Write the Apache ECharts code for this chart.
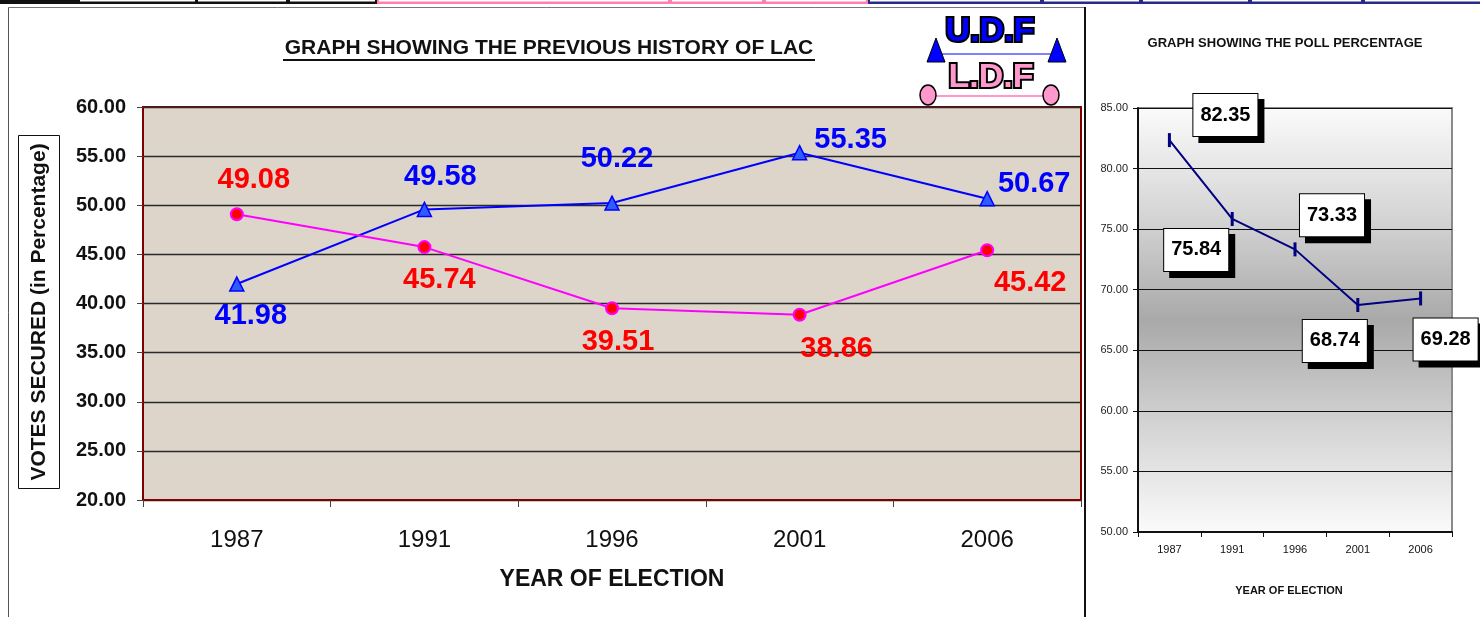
<!DOCTYPE html>
<html>
<head>
<meta charset="utf-8">
<script src="https://cdn.jsdelivr.net/npm/echarts@6/dist/echarts.min.js"></script>
<style>
html,body{margin:0;padding:0;background:#fff;}
#c{width:1480px;height:617px;}
</style>
</head>
<body>
<div id="c"></div>
<script>
// ---- data ----
var years = ['1987', '1991', '1996', '2001', '2006'];
var udf = [41.98, 49.58, 50.22, 55.35, 50.67];
var ldf = [49.08, 45.74, 39.51, 38.86, 45.42];
var poll = [82.35, 75.84, 73.33, 68.74, 69.28];

// label layout (pixel offsets from each point)
var udfOffsets = [[14, 32], [16, -32], [5, -44], [51, -13], [47, -15]];
var ldfOffsets = [[17, -34], [15, 33], [6, 34], [37, 34], [43, 33]];
var pollOffsets = [[56, -25], [-36, 31], [37, -34], [-23, 36], [25, 41]];

var FONT = '"Liberation Sans", Arial, sans-serif';

function withOffsets(vals, offs) {
  return vals.map(function (v, i) {
    return { value: v, label: { offset: offs[i] } };
  });
}

var chart = echarts.init(document.getElementById('c'), null, { renderer: 'canvas' });

var option = {
  animation: false,
  backgroundColor: '#ffffff',
  grid: [
    { left: 143, top: 107, width: 938, height: 393, show: true,
      backgroundColor: '#ddd5c9', borderColor: '#800000', borderWidth: 2 },
    { left: 1138, top: 108, width: 314, height: 424, show: true,
      backgroundColor: { type: 'linear', x: 0, y: 0, x2: 0, y2: 1,
        colorStops: [
          { offset: 0, color: '#fbfbfb' },
          { offset: 0.25, color: '#d6d6d6' },
          { offset: 0.5, color: '#a9a9a9' },
          { offset: 0.75, color: '#d4d4d4' },
          { offset: 1, color: '#fbfbfb' }
        ] },
      borderColor: '#8a8a8a', borderWidth: 2 }
  ],
  xAxis: [
    { type: 'category', gridIndex: 0, data: years, boundaryGap: true,
      axisLine: { show: true, lineStyle: { color: '#800000', width: 2 } },
      axisTick: { show: true, length: 7, lineStyle: { color: '#444', width: 1 } },
      axisLabel: { margin: 28, fontFamily: FONT, fontSize: 24, color: '#111' },
      splitLine: { show: false } },
    { type: 'category', gridIndex: 1, data: years, boundaryGap: true,
      axisLine: { show: true, lineStyle: { color: '#111', width: 2 } },
      axisTick: { show: true, length: 5, lineStyle: { color: '#111', width: 1 } },
      axisLabel: { margin: 12, fontFamily: FONT, fontSize: 11, color: '#111' },
      splitLine: { show: false } }
  ],
  yAxis: [
    { type: 'value', gridIndex: 0, min: 20, max: 60, interval: 5,
      axisLine: { show: true, lineStyle: { color: '#800000', width: 2 } },
      axisTick: { show: true, length: 6, lineStyle: { color: '#444', width: 1 } },
      axisLabel: { margin: 17, fontFamily: FONT, fontSize: 20, fontWeight: 'bold', color: '#111',
        formatter: function (v) { return v.toFixed(2); } },
      splitLine: { show: true, lineStyle: { color: '#2a2a2a', width: 1.3 } } },
    { type: 'value', gridIndex: 1, min: 50, max: 85, interval: 5,
      axisLine: { show: true, lineStyle: { color: '#111', width: 2 } },
      axisTick: { show: true, length: 5, lineStyle: { color: '#111', width: 1 } },
      axisLabel: { margin: 10, fontFamily: FONT, fontSize: 11, color: '#222',
        formatter: function (v) { return v.toFixed(2); } },
      splitLine: { show: true, lineStyle: { color: '#111', width: 1.2 } } }
  ],
  series: [
    { name: 'U.D.F', type: 'line', xAxisIndex: 0, yAxisIndex: 0,
      data: withOffsets(udf, udfOffsets),
      symbol: 'triangle', symbolSize: 14,
      lineStyle: { color: '#0000ff', width: 2 },
      itemStyle: { color: '#2f5cff', borderColor: '#0000ff', borderWidth: 1.5 },
      label: { show: true, position: 'inside', fontFamily: FONT, fontSize: 29,
        fontWeight: 'bold', color: '#0000ff',
        formatter: function (p) { return p.value.toFixed(2); } },
      z: 3 },
    { name: 'L.D.F', type: 'line', xAxisIndex: 0, yAxisIndex: 0,
      data: withOffsets(ldf, ldfOffsets),
      symbol: 'circle', symbolSize: 12,
      lineStyle: { color: '#ff00ff', width: 2 },
      itemStyle: { color: '#ff0000', borderColor: '#ff00ff', borderWidth: 2 },
      label: { show: true, position: 'inside', fontFamily: FONT, fontSize: 29,
        fontWeight: 'bold', color: '#ff0000',
        formatter: function (p) { return p.value.toFixed(2); } },
      z: 3 },
    { name: 'POLL', type: 'line', xAxisIndex: 1, yAxisIndex: 1,
      data: withOffsets(poll, pollOffsets),
      symbol: 'rect', symbolSize: [3, 14],
      lineStyle: { color: '#000080', width: 2 },
      itemStyle: { color: '#000080' },
      label: { show: true, position: 'inside', fontFamily: FONT, fontSize: 20,
        fontWeight: 'bold', color: '#000',
        backgroundColor: '#fff', borderColor: '#000', borderWidth: 1,
        padding: [11, 7, 11, 7],
        shadowColor: '#000', shadowOffsetX: 6, shadowOffsetY: 6, shadowBlur: 0,
        formatter: function (p) { return p.value.toFixed(2); } },
      z: 3 }
  ],
  graphic: [
    // top strip (table edge)
    { type: 'rect', shape: { x: 0, y: 0, width: 377, height: 4 }, style: { fill: '#111' }, z: 10 },
    { type: 'rect', shape: { x: 377, y: 0, width: 491, height: 4 }, style: { fill: '#ff7fb3' }, z: 10 },
    { type: 'rect', shape: { x: 868, y: 0, width: 612, height: 4 }, style: { fill: '#2a2a8a' }, z: 10 },
    { type: 'rect', shape: { x: 80, y: 0, width: 115, height: 1.5 }, style: { fill: '#fff' }, z: 11 },
    { type: 'rect', shape: { x: 198, y: 0, width: 88, height: 1.5 }, style: { fill: '#fff' }, z: 11 },
    { type: 'rect', shape: { x: 290, y: 0, width: 85, height: 1.5 }, style: { fill: '#fff' }, z: 11 },
    { type: 'rect', shape: { x: 379, y: 0, width: 289, height: 1.5 }, style: { fill: '#fff' }, z: 11 },
    { type: 'rect', shape: { x: 672, y: 0, width: 90, height: 1.5 }, style: { fill: '#fff' }, z: 11 },
    { type: 'rect', shape: { x: 766, y: 0, width: 100, height: 1.5 }, style: { fill: '#fff' }, z: 11 },
    { type: 'rect', shape: { x: 870, y: 0, width: 170, height: 1.5 }, style: { fill: '#fff' }, z: 11 },
    { type: 'rect', shape: { x: 1044, y: 0, width: 95, height: 1.5 }, style: { fill: '#fff' }, z: 11 },
    { type: 'rect', shape: { x: 1143, y: 0, width: 105, height: 1.5 }, style: { fill: '#fff' }, z: 11 },
    { type: 'rect', shape: { x: 1252, y: 0, width: 109, height: 1.5 }, style: { fill: '#fff' }, z: 11 },
    { type: 'rect', shape: { x: 1365, y: 0, width: 115, height: 1.5 }, style: { fill: '#fff' }, z: 11 },
    // left panel frame
    { type: 'line', shape: { x1: 8.5, y1: 7.5, x2: 1085, y2: 7.5 }, style: { stroke: '#777', lineWidth: 1 }, z: 10 },
    { type: 'line', shape: { x1: 8.5, y1: 7.5, x2: 8.5, y2: 617 }, style: { stroke: '#555', lineWidth: 1 }, z: 10 },
    { type: 'line', shape: { x1: 1085, y1: 7, x2: 1085, y2: 617 }, style: { stroke: '#111', lineWidth: 2 }, z: 10 },
    // left title
    { type: 'text', x: 549, y: 48,
      style: { text: 'GRAPH SHOWING THE PREVIOUS HISTORY OF LAC', font: 'bold 21px ' + FONT, fill: '#111',
        align: 'center', verticalAlign: 'middle' }, z: 10 },
    { type: 'line', shape: { x1: 283, y1: 60, x2: 815, y2: 60 }, style: { stroke: '#111', lineWidth: 2 }, z: 10 },
    // y axis title box
    { type: 'rect', shape: { x: 18.5, y: 135.5, width: 41, height: 353 }, style: { fill: '#fff', stroke: '#111', lineWidth: 1 }, z: 10 },
    { type: 'text', x: 39, y: 312, rotation: Math.PI / 2,
      style: { text: 'VOTES SECURED (in Percentage)', font: 'bold 21px ' + FONT, fill: '#111',
        align: 'center', verticalAlign: 'middle' }, z: 11 },
    // x axis title
    { type: 'text', x: 612, y: 580,
      style: { text: 'YEAR OF ELECTION', font: 'bold 23px ' + FONT, fill: '#111',
        align: 'center', verticalAlign: 'middle' }, z: 10 },
    // legend (U.D.F / L.D.F)
    { type: 'line', shape: { x1: 942, y1: 54, x2: 1051, y2: 54 }, style: { stroke: '#0000ff', lineWidth: 1 }, z: 10 },
    { type: 'polygon', shape: { points: [[936, 38], [927, 62], [945, 62]] }, style: { fill: '#0000ff', stroke: '#000', lineWidth: 1 }, z: 11 },
    { type: 'polygon', shape: { points: [[1057, 38], [1048, 62], [1066, 62]] }, style: { fill: '#0000ff', stroke: '#000', lineWidth: 1 }, z: 11 },
    { type: 'text', x: 990, y: 32,
      style: { text: 'U.D.F', font: 'bold 34px ' + FONT, fill: '#0000ff', stroke: '#000', lineWidth: 4,
        strokeFirst: true, align: 'center', verticalAlign: 'middle' }, z: 11 },
    { type: 'line', shape: { x1: 936, y1: 96, x2: 1043, y2: 96 }, style: { stroke: '#ff99cc', lineWidth: 2 }, z: 10 },
    { type: 'ellipse', shape: { cx: 928, cy: 95, rx: 8, ry: 10 }, style: { fill: '#ff99cc', stroke: '#000', lineWidth: 1.5 }, z: 11 },
    { type: 'ellipse', shape: { cx: 1051, cy: 95, rx: 8, ry: 10 }, style: { fill: '#ff99cc', stroke: '#000', lineWidth: 1.5 }, z: 11 },
    { type: 'text', x: 991, y: 78,
      style: { text: 'L.D.F', font: 'bold 34px ' + FONT, fill: '#ff99cc', stroke: '#000', lineWidth: 4,
        strokeFirst: true, align: 'center', verticalAlign: 'middle' }, z: 11 },
    // right titles
    { type: 'text', x: 1285, y: 43,
      style: { text: 'GRAPH SHOWING THE POLL PERCENTAGE', font: 'bold 13px ' + FONT, fill: '#111',
        align: 'center', verticalAlign: 'middle' }, z: 10 },
    { type: 'text', x: 1289, y: 591,
      style: { text: 'YEAR OF ELECTION', font: 'bold 11px ' + FONT, fill: '#111',
        align: 'center', verticalAlign: 'middle' }, z: 10 }
  ]
};

chart.setOption(option);
</script>
</body>
</html>
